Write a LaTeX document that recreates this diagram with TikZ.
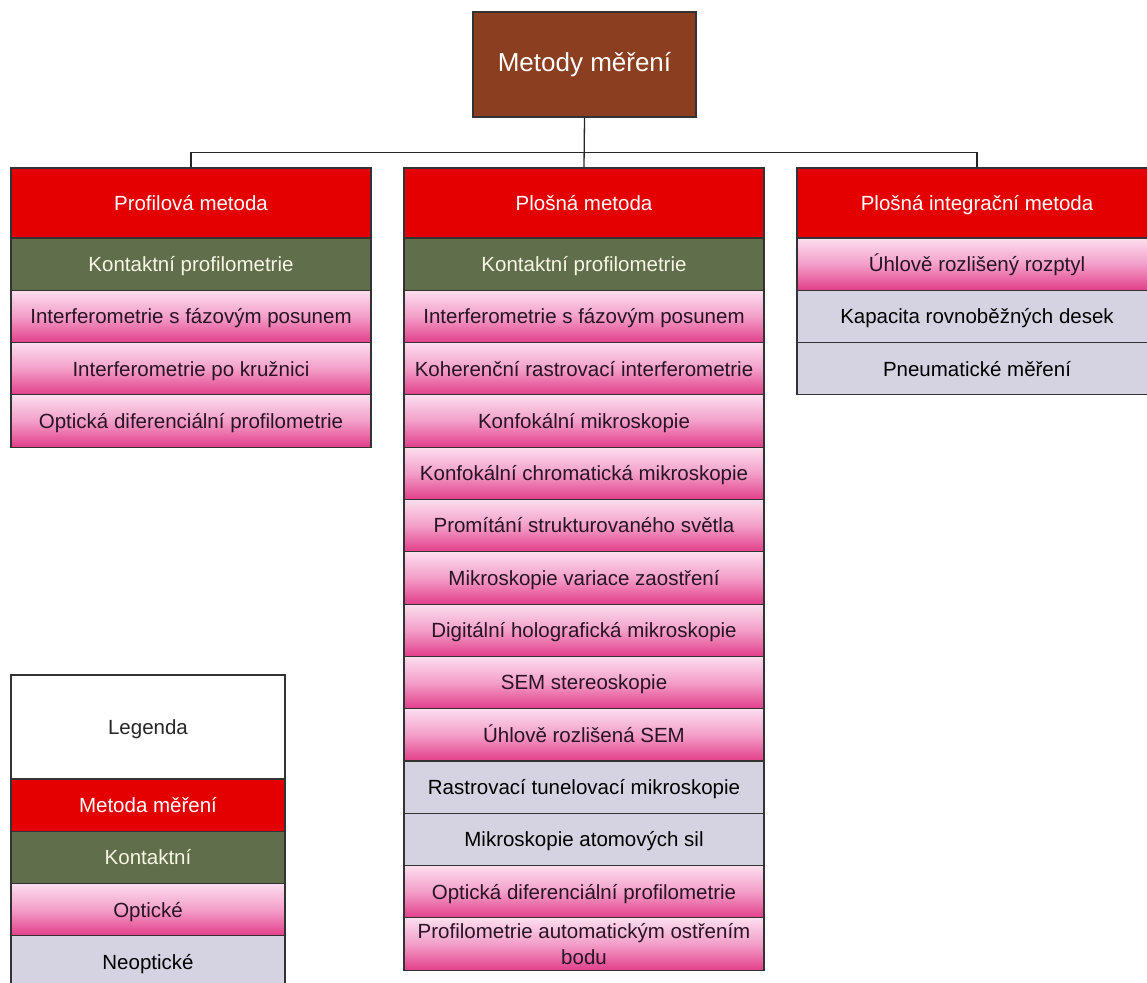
\documentclass[tikz,border=0pt]{standalone}
\usepackage{fontspec}
\setmainfont{Liberation Sans}
\usetikzlibrary{positioning}

\definecolor{rootbrown}{RGB}{139,62,32}
\definecolor{methodred}{RGB}{228,0,0}
\definecolor{contactgreen}{RGB}{96,110,76}
\definecolor{contacttext}{RGB}{246,246,226}
\definecolor{optictop}{RGB}{252,222,238}
\definecolor{opticmid}{RGB}{243,158,200}
\definecolor{opticbot}{RGB}{226,62,138}
\definecolor{optictext}{RGB}{40,20,36}
\definecolor{nonopticgray}{RGB}{213,211,225}

\begin{document}
\begin{tikzpicture}[x=1pt, y=1pt, node distance=52.3pt,
  cell/.style={draw=black!80, line width=1.1pt, minimum width=360pt, minimum height=52.3pt, inner sep=0pt, align=center, text height=17pt, text depth=2.5pt, font=\fontsize{20.5}{26}\selectfont},
  rootbox/.style={cell, fill=rootbrown, text=white, minimum width=223pt, minimum height=105pt, text height=19pt, text depth=5.5pt, font=\fontsize{26}{30}\selectfont},
  method/.style={cell, fill=methodred, text=white, minimum height=70pt},
  contact/.style={cell, fill=contactgreen, text=contacttext},
  optic/.style={cell, top color=optictop, bottom color=opticbot, middle color=opticmid, text=optictext},
  nonoptic/.style={cell, fill=nonopticgray, text=black},
  link/.style={draw=black!85, line width=1.3pt}]
  \useasboundingbox (0,0) rectangle (1147,-982);

  \node [rootbox] (root) at (584.5,-64.5) {Metody měření};

  % profilova metoda
  \node [method] (p0) at (191,-203) {Profilová metoda};
  \node [contact] (p1) [below of=p0, node distance=61.15pt] {Kontaktní profilometrie};
  \node [optic] (p2) [below of=p1] {Interferometrie s fázovým posunem};
  \node [optic] (p3) [below of=p2] {Interferometrie po kružnici};
  \node [optic] (p4) [below of=p3] {Optická diferenciální profilometrie};

  % plosna metoda
  \node [method] (s0) at (584,-203) {Plošná metoda};
  \node [contact] (s1) [below of=s0, node distance=61.15pt] {Kontaktní profilometrie};
  \node [optic] (s2) [below of=s1] {Interferometrie s fázovým posunem};
  \node [optic] (s3) [below of=s2] {Koherenční rastrovací interferometrie};
  \node [optic] (s4) [below of=s3] {Konfokální mikroskopie};
  \node [optic] (s5) [below of=s4] {Konfokální chromatická mikroskopie};
  \node [optic] (s6) [below of=s5] {Promítání strukturovaného světla};
  \node [optic] (s7) [below of=s6] {Mikroskopie variace zaostření};
  \node [optic] (s8) [below of=s7] {Digitální holografická mikroskopie};
  \node [optic] (s9) [below of=s8] {SEM stereoskopie};
  \node [optic] (s10) [below of=s9] {Úhlově rozlišená SEM};
  \node [nonoptic] (s11) [below of=s10] {Rastrovací tunelovací mikroskopie};
  \node [nonoptic] (s12) [below of=s11] {Mikroskopie atomových sil};
  \node [optic] (s13) [below of=s12] {Optická diferenciální profilometrie};
  \node [optic, text height={}, text depth={}] (s14) [below of=s13] {Profilometrie automatickým ostřením\\bodu};

  % plosna integracni metoda
  \node [method] (i0) at (977,-203) {Plošná integrační metoda};
  \node [optic] (i1) [below of=i0, node distance=61.15pt] {Úhlově rozlišený rozptyl};
  \node [nonoptic] (i2) [below of=i1] {Kapacita rovnoběžných desek};
  \node [nonoptic] (i3) [below of=i2] {Pneumatické měření};

  % legenda
  \node [cell, fill=white, text=black!85, minimum width=274pt, minimum height=104pt] (l0) at (148,-727) {Legenda};
  \node [method, minimum width=274pt, minimum height=52.3pt] (l1) [below of=l0, node distance=78.15pt] {Metoda měření};
  \node [contact, minimum width=274pt] (l2) [below of=l1] {Kontaktní};
  \node [optic, minimum width=274pt] (l3) [below of=l2] {Optické};
  \node [nonoptic, minimum width=274pt] (l4) [below of=l3] {Neoptické};

  \coordinate (bus) at ([yshift=-35pt]root.south);
  \path [link] (root.south) -- (s0.north);
  \path [link] (p0.north) |- (bus) -| (i0.north);
\end{tikzpicture}
\end{document}
